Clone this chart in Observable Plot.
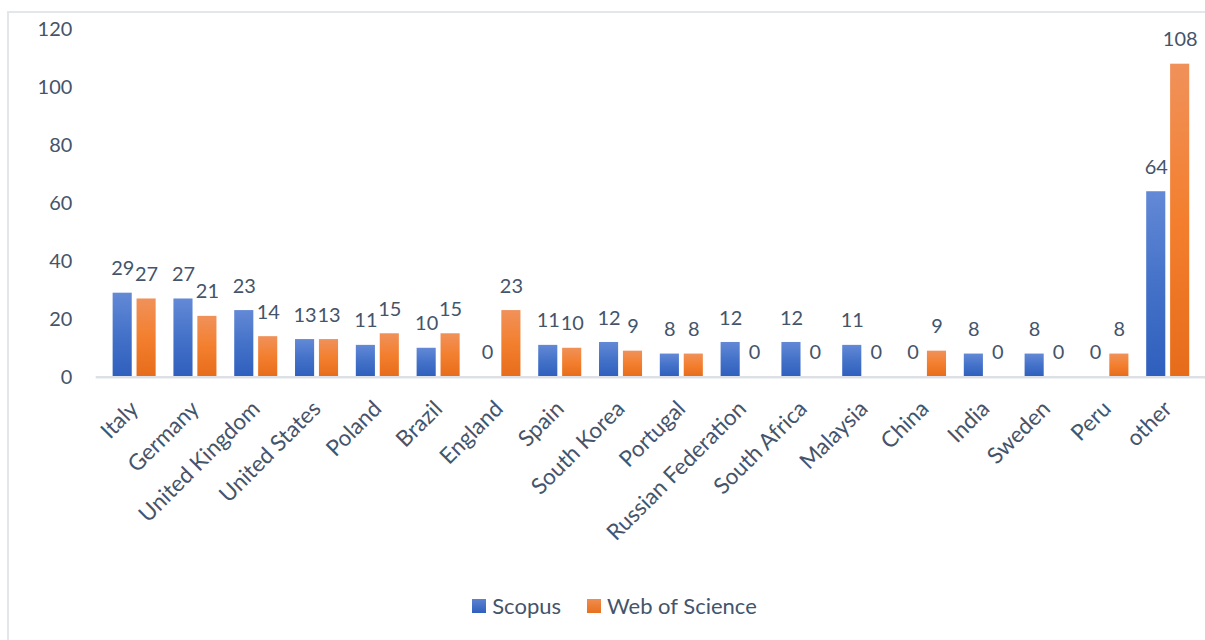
<!DOCTYPE html>
<html>
<head>
<meta charset="utf-8">
<script src="https://cdn.jsdelivr.net/npm/d3@7"></script>
<script src="https://cdn.jsdelivr.net/npm/@observablehq/plot@0.6"></script>
<style>
  html, body { margin: 0; padding: 0; background: #fff; overflow: hidden; }
  #wrap { position: relative; width: 1205px; height: 640px; overflow: hidden; font-family: Lato, "Open Sans", sans-serif; }
  #frame { position: absolute; left: 7px; top: 11px; width: 1210px; height: 640px; border: 2px solid #e3e6ea; box-sizing: border-box; }
  #chart { position: absolute; left: 0; top: 0; }
  #legend { position: absolute; left: 0; top: 592px; width: 1205px; display: flex; justify-content: center; align-items: center; gap: 26px; color: #44546A; font-size: 22px; padding-left: 24px; box-sizing: border-box;}
  .sw { display: inline-block; width: 14px; height: 14px; margin-right: 6px; vertical-align: middle; }
  .item { display: flex; align-items: center; }
</style>
</head>
<body>
<div id="wrap">
  <div id="frame"></div>
  <div id="chart"></div>
  <div id="legend">
    <span class="item"><span class="sw" style="background:linear-gradient(#5b82d2,#2f5fbd)"></span>Scopus</span>
    <span class="item"><span class="sw" style="background:linear-gradient(#f08c4e,#e8701e)"></span>Web of Science</span>
  </div>
</div>
<script>
const countries = ["Italy","Germany","United Kingdom","United States","Poland","Brazil","England","Spain","South Korea","Portugal","Russian Federation","South Africa","Malaysia","China","India","Sweden","Peru","other"];
const scopus = [29,27,23,13,11,10,0,11,12,8,12,12,11,0,8,8,0,64];
const wos = [27,21,14,13,15,15,23,10,9,8,0,0,0,9,0,0,8,108];
const yTicks = [0,20,40,60,80,100,120];

const scopusData = countries.map((c, i) => ({country: c, value: scopus[i]}));
const wosData = countries.map((c, i) => ({country: c, value: wos[i]}));

const W = 1209, H = 590, ML = 96, MR = 0, MT = 29, MB = H - 378;
const step = (W - ML - MR) / countries.length;
const barW = 20;
const sIL = 9, sIR = step - sIL - barW;
const wIL = 33, wIR = step - wIL - barW;
const sDx = sIL + barW / 2 - step / 2;
const wDx = wIL + barW / 2 - step / 2;

const txt = "#44546A";
const plot = Plot.plot({
  width: W, height: H,
  marginLeft: ML, marginRight: MR, marginTop: MT, marginBottom: MB,
  style: {fontFamily: "Lato, 'Open Sans', sans-serif", fontSize: "20px", color: txt, background: "transparent", overflow: "visible"},
  x: {domain: countries, padding: 0, label: null, tickSize: 0, tickRotate: -45, tickPadding: 28},
  y: {domain: [0, 120], ticks: yTicks, label: null, tickSize: 0, tickPadding: 24},
  marks: [
    Plot.barY(scopusData, {x: "country", y: "value", fill: "url(#gBlue)", insetLeft: sIL, insetRight: sIR}),
    Plot.barY(wosData, {x: "country", y: "value", fill: "url(#gOrange)", insetLeft: wIL, insetRight: wIR}),
    Plot.ruleY([0], {stroke: "#dde1e6", strokeWidth: 2.5}),
    Plot.text(scopusData, {x: "country", y: "value", text: d => String(d.value), dx: sDx, dy: -18, lineAnchor: "bottom", fill: txt, fontSize: 20}),
    Plot.text(wosData, {x: "country", y: "value", text: d => String(d.value), dx: wDx, dy: -18, lineAnchor: "bottom", fill: txt, fontSize: 20})
  ]
});
plot.querySelectorAll("[aria-label='x-axis tick label'] text").forEach(t => t.style.fontSize = "22.5px");
const ns = "http://www.w3.org/2000/svg";
const defs = document.createElementNS(ns, "defs");
defs.innerHTML = `
<linearGradient id="gBlue" x1="0" y1="0" x2="0" y2="1" gradientUnits="objectBoundingBox">
  <stop offset="0" stop-color="#6389d6"/><stop offset="0.5" stop-color="#4472c9"/><stop offset="1" stop-color="#2f5fbd"/>
</linearGradient>
<linearGradient id="gOrange" x1="0" y1="0" x2="0" y2="1" gradientUnits="objectBoundingBox">
  <stop offset="0" stop-color="#f0915a"/><stop offset="0.5" stop-color="#f37f2e"/><stop offset="1" stop-color="#e66c1a"/>
</linearGradient>`;
plot.insertBefore(defs, plot.firstChild);
document.getElementById("chart").appendChild(plot);
</script>
</body>
</html>
